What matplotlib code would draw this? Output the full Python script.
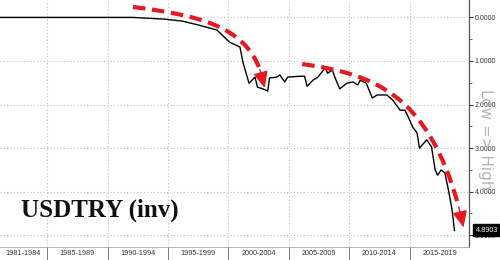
import matplotlib
matplotlib.use("Agg")
import matplotlib.pyplot as plt
from matplotlib.path import Path
from matplotlib.patches import PathPatch
from matplotlib.ticker import FixedLocator, MultipleLocator, NullFormatter

# --- data (decimal year, USDTRY) ---
years = [1981.1, 1992.1, 1994.75, 1996.2, 1997.6, 1999.05, 2000.1, 2000.95, 2001.2, 2001.7,
         2002.2, 2002.4, 2002.85, 2003.25, 2003.4, 2004.0, 2004.25, 2004.65, 2004.9, 2005.9,
         2006.3, 2006.5, 2007.0, 2007.4, 2008.0, 2008.2, 2008.6, 2008.8, 2009.2, 2009.8,
         2010.3, 2010.7, 2010.9, 2011.4, 2011.9, 2012.3, 2013.1, 2013.6, 2014.2, 2014.6,
         2014.8, 2015.25, 2015.6, 2015.8, 2016.4, 2016.8, 2017.1, 2017.3, 2017.6, 2017.9,
         2018.2, 2018.5, 2018.7]
usdtry = [0.0, 0.0, 0.04, 0.085, 0.18, 0.29, 0.57, 0.68, 1.03, 1.51,
          1.37, 1.60, 1.64, 1.69, 1.39, 1.37, 1.32, 1.48, 1.37, 1.35,
          1.35, 1.58, 1.44, 1.37, 1.16, 1.28, 1.21, 1.37, 1.64, 1.51,
          1.48, 1.55, 1.44, 1.51, 1.85, 1.78, 1.78, 1.90, 2.13, 2.13,
          2.24, 2.52, 2.65, 3.00, 2.81, 2.97, 3.50, 3.62, 3.50, 3.57,
          3.96, 4.42, 4.8903]
last_value = 4.8903
period_edges = [1985, 1990, 1995, 2000, 2005, 2010, 2015]
period_centers = [1983.05, 1987.5, 1992.5, 1997.5, 2002.5, 2007.5, 2012.5, 2017.5]
period_labels = ["1981-1984", "1985-1989", "1990-1994", "1995-1999",
                 "2000-2004", "2005-2009", "2010-2014", "2015-2019"]
y_ticks = [0, 1, 2, 3, 4, 5]
title = "USDTRY (inv)"
side_label = "Low => High"

# annotation arrows (bezier control points, then arrowhead tip)
arrow1_ctrl = [(1992.1, -0.24), (1997.5, -0.05), (2001.3, 0.2), (2002.6, 1.2)]
arrow1_tip = (2003.0, 1.62)
arrow2_ctrl = [(2006.1, 1.07), (2012.0, 1.3), (2016.5, 1.75), (2019.05, 4.35)]
arrow2_tip = (2019.45, 4.82)

RED = "#e5191f"

fig = plt.figure(figsize=(5, 2.6), dpi=100)
ax = fig.add_axes([0.0, 0.05, 0.938, 0.95])

ax.plot(years, usdtry, color="black", lw=1.0, zorder=4, solid_joinstyle="round")

for ctrl, tip in [(arrow1_ctrl, arrow1_tip), (arrow2_ctrl, arrow2_tip)]:
    p = Path(ctrl, [Path.MOVETO, Path.CURVE4, Path.CURVE4, Path.CURVE4])
    ax.add_patch(PathPatch(p, fill=False, edgecolor=RED, lw=3.0,
                           linestyle=(0, (3.0, 1.6)), capstyle="butt", zorder=5))
    ax.annotate("", xy=tip, xytext=ctrl[-1],
                arrowprops=dict(arrowstyle="-|>,head_length=1.0,head_width=0.45",
                                mutation_scale=10, color=RED, lw=1.0,
                                shrinkA=0, shrinkB=0), zorder=5)

ax.set_xlim(1981.1, 2019.9)
ax.set_ylim(5.27, -0.40)

# x axis
ax.xaxis.set_major_locator(FixedLocator(period_edges))
ax.xaxis.set_major_formatter(NullFormatter())
ax.xaxis.set_minor_locator(FixedLocator(period_centers))
ax.set_xticklabels(period_labels, minor=True)
ax.tick_params(axis="x", which="major", length=11, width=0.6, color="#666666", direction="out")
ax.tick_params(axis="x", which="minor", length=0, labelsize=5.2, labelcolor="#333333", pad=2)
for lab in ax.get_xticklabels(minor=True):
    lab.set_fontfamily("Liberation Sans")

# y axis on right
ax.yaxis.tick_right()
ax.set_yticks(y_ticks)
ax.set_yticklabels([f"{v:.4f}" for v in y_ticks])
ax.yaxis.set_minor_locator(MultipleLocator(0.5))
ax.tick_params(axis="y", which="major", length=3, width=0.8, color="#333333",
               labelsize=5.0, labelcolor="#333333", pad=1)
ax.tick_params(axis="y", which="minor", length=2, width=0.6, color="#555555")
for lab in ax.get_yticklabels():
    lab.set_fontfamily("Liberation Sans")

ax.grid(True, which="major", axis="both", color="#bfbfbf", linestyle=(0, (1, 2)), lw=0.8)

for s in ["left", "top"]:
    ax.spines[s].set_visible(False)
ax.spines["right"].set_color("#555555")
ax.spines["right"].set_linewidth(0.9)
ax.spines["bottom"].set_color("#aaaaaa")
ax.spines["bottom"].set_linewidth(0.6)

ax.text(0.045, 0.15, title, transform=ax.transAxes, fontsize=18, fontweight="bold",
        family="Liberation Serif", color="#111111", va="center", ha="left", zorder=6)

fig.text(0.972, 0.465, side_label, rotation=270, fontsize=11, color="#b5b5b5",
         ha="center", va="center", family="DejaVu Sans", zorder=1)

ax.annotate(f"{last_value:.4f}", xy=(1.0, last_value), xycoords=("axes fraction", "data"),
            xytext=(5, 0), textcoords="offset points", fontsize=5.2, color="white",
            family="Liberation Sans", va="center", ha="left", annotation_clip=False,
            bbox=dict(boxstyle="square,pad=0.35", fc="black", ec="black"), zorder=7)

fig.savefig("out.png", dpi=100)
